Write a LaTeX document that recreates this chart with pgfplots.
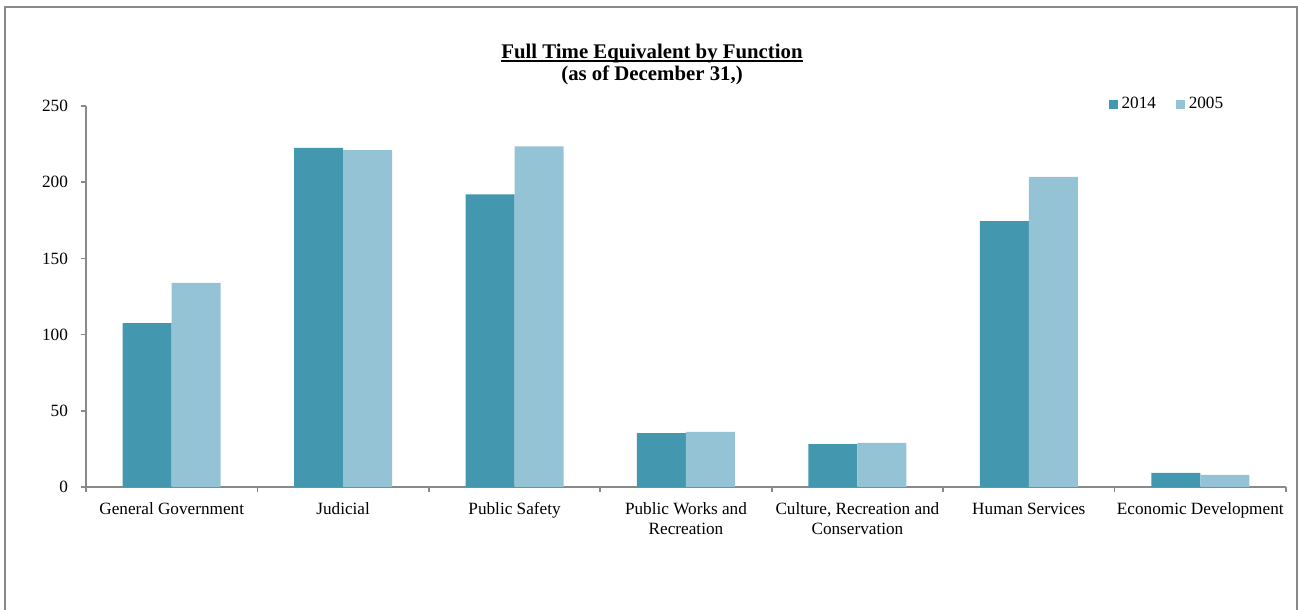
\documentclass[border=0pt]{standalone}
\usepackage{fontspec}
\setmainfont{Liberation Serif}
\usepackage{pgfplots}
\pgfplotsset{compat=1.18}
\definecolor{c2014}{HTML}{4398B0}
\definecolor{c2005}{HTML}{93C3D4}
\definecolor{axgray}{HTML}{898989}
\begin{document}
\begin{tikzpicture}
\useasboundingbox (-43pt,-61.5pt) rectangle (606pt,243.5pt);
\draw[axgray, line width=0.8pt] (-40.5pt,-70pt) -- (-40.5pt,240pt) -- (605.5pt,240pt) -- (605.5pt,-70pt);
\node[font=\fontsize{10.4}{11}\selectfont\bfseries, anchor=base, inner sep=0pt] (t1) at (283pt,214pt)
  {Full Time Equivalent by Function};
\draw[line width=0.9pt] ([yshift=-1.2pt]t1.base west) -- ([yshift=-1.2pt]t1.base east);
\node[font=\fontsize{10.4}{11}\selectfont\bfseries, anchor=base, inner sep=0pt] at (283pt,203pt)
  {(as of December 31,)};
\begin{axis}[
    width=600pt, height=190.5pt, scale only axis,
    ybar=0pt, bar width=24.5pt,
    xmin=-0.5, xmax=6.5, ymin=0, ymax=250,
    ytick={0,50,...,250},
    xtick={0,...,6},
    xticklabels={\strut General Government, \strut Judicial, \strut Public Safety,
      \strut Public Works and\\\strut Recreation,
      {\strut Culture, Recreation and\\\strut Conservation},
      \strut Human Services, \strut Economic Development},
    minor xtick={-0.5,0.5,...,6.5},
    axis x line*=bottom, axis y line*=left,
    axis line style={axgray, line width=0.8pt},
    tick align=outside,
    major tick length=2.5pt, minor tick length=2.5pt,
    tick style={axgray, line width=0.8pt},
    major x tick style={draw=none},
    /pgf/number format/assume math mode=true,
    tick label style={font=\fontsize{8.6}{10}\selectfont},
    xticklabel style={align=center, yshift=-0.5pt},
    yticklabel style={xshift=-3pt},
    legend style={draw=none, at={(0.852,1.004)}, anchor=west,
      font=\fontsize{8.6}{10}\selectfont, inner sep=0pt},
    legend columns=2,
    /tikz/every even column/.append style={column sep=8pt},
    legend image code/.code={\fill[#1] (0pt,-2.2pt) rectangle (4.4pt,2.2pt);},
]
% 2014
\addplot[fill=c2014, draw=none] coordinates {
    (0,107.5) (1,222.5) (2,192) (3,35.4) (4,28.2) (5,174.5) (6,9.2)};
% 2005
\addplot[fill=c2005, draw=none] coordinates {
    (0,134) (1,221) (2,223.5) (3,36.1) (4,28.9) (5,203.5) (6,7.9)};
\legend{2014, 2005}
\end{axis}
\end{tikzpicture}
\end{document}
